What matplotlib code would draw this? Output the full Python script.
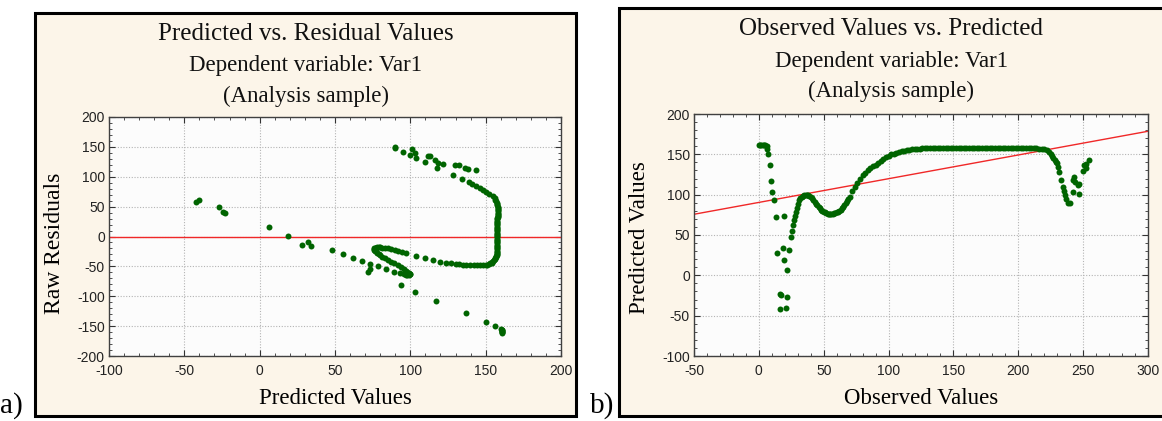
import matplotlib
matplotlib.use("Agg")
import matplotlib.pyplot as plt
from matplotlib.patches import Rectangle
from matplotlib.ticker import MultipleLocator

plt.rcParams["axes.unicode_minus"] = False

# -- Data ---------------------------------------------------------------------
# Sparse points at low observed values
obs_low = [0, 1, 2, 3, 4, 5, 6, 6.5, 7, 8.5, 9.5, 10, 12, 13, 19, 14, 18.5,
           19.5, 23.5, 22, 16, 17, 16, 21, 22]
pred_low = [161, 161, 161, 161, 161, 161, 160, 156, 150, 137, 117, 103, 94, 72,
            73, 28, 34, 19, 32, 6, -23, -24.5, -42, -40.5, -27]

# Dense main curve (rising part, bump, dip, climb, plateau, drop)
obs_curve = [
    25, 25.5, 26.3, 27, 27.8, 28.8, 29.5, 30.3, 31.2,
    32, 33, 34, 35, 36, 37, 38, 39, 40, 41,
    42, 43, 44, 45, 46, 47, 48, 49, 50, 51,
    52, 53, 54, 55, 56, 57, 58, 59, 60, 61,
    62, 63, 64, 65, 66, 67, 68, 69, 70,
    72, 74, 76, 78, 80, 82, 84, 86, 88, 90,
    92, 94, 96, 98, 100, 102, 104, 106, 108, 110,
    112, 114, 116, 118, 120, 122, 124, 126, 128,
    130, 132, 134, 136, 138, 140, 142, 144, 146, 148,
    150, 152, 154, 156, 158, 160, 162, 164, 166, 168,
    170, 172, 174, 176, 178, 180, 182, 184, 186, 188,
    190, 192, 194, 196, 198, 200, 202, 204, 206, 208,
    210, 212, 214,
    216, 218, 220, 222, 224, 225, 226, 227, 228, 229,
]
pred_curve = [
    48, 55.5, 62, 68, 73, 78.5, 84, 89, 93,
    95.5, 97, 98, 99, 99.5, 99.5, 99, 98, 97, 95.5,
    93.5, 91.5, 89, 87, 85, 83, 81.5, 80, 79, 78,
    77, 76.5, 76, 76, 76, 76.5, 77, 77.5, 78, 79,
    80, 81.5, 83, 85, 87, 89.5, 92, 94.5, 97,
    104, 110, 115, 120, 124, 127, 130, 132.5, 135, 137,
    139.5, 142, 144.5, 146.5, 148, 150, 151, 152, 153, 154,
    154.5, 155, 155.5, 156, 156.5, 157, 157, 157.5, 157.5,
    157.5, 157.5, 157.5, 157.5, 157.5, 157.5, 157.5, 157.5, 157.5, 157.5,
    157.5, 157.5, 157.5, 157.5, 157.5, 157.5, 157.5, 157.5, 157.5, 157.5,
    157.5, 157.5, 157.5, 157.5, 157.5, 157.5, 157.5, 157.5, 157.5, 157.5,
    158, 158, 158, 158, 158, 158, 158, 158, 158, 158,
    157.5, 157.5, 157.5,
    157, 156.5, 156, 155, 152.5, 150.5, 148.5, 146, 143.5, 141,
]

# Sparse points at high observed values
obs_high = [229.5, 230.5, 231.5, 232.8, 234.3, 235, 236.3, 237, 238.2, 239.5,
            242, 242, 242.8, 243.5, 245.8, 247, 246.8, 250, 250.5, 252, 252.5,
            254.5]
pred_high = [139, 134.5, 128, 118, 109.5, 104, 100, 95, 89.5, 89.5, 103,
             118.5, 122, 116.2, 111.5, 113, 101, 129.5, 136.5, 138.5, 132.5,
             143.5]

obs = obs_low + obs_curve + obs_high
pred = pred_low + pred_curve + pred_high
assert len(obs) == len(pred), (len(obs), len(pred))
resid = [o - p for o, p in zip(obs, pred)]

# Fitted line on the observed vs predicted panel
fit_intercept = 90.4
fit_slope = 0.294

# -- Style ---------------------------------------------------------------------
W, H = 1162, 421
_CREAM = "#fcf5e9"
_PLOT_BG = "#fcfcfc"
_GREEN = "#006400"
_RED = "#f02828"
_SERIF = ["Liberation Serif", "DejaVu Serif"]
_NARROW = ["Liberation Sans Narrow", "Liberation Sans", "DejaVu Sans"]
_FS_HEAD = 18
_FS_TITLE = 16.5
_FS_LABEL = 16.5
_FS_TICK = 10
_MS = 4.3


def px_rect(x0, y0, x1, y1):
    """Pixel box (top-left origin) -> figure fraction rect."""
    return [x0 / W, 1 - y1 / H, (x1 - x0) / W, (y1 - y0) / H]


def fx(x):
    return x / W


def fy(y):
    return 1 - y / H


def style_axes(ax, xlim, ylim):
    ax.set_facecolor(_PLOT_BG)
    ax.set_xlim(*xlim)
    ax.set_ylim(*ylim)
    ax.xaxis.set_major_locator(MultipleLocator(50))
    ax.xaxis.set_minor_locator(MultipleLocator(10))
    ax.yaxis.set_major_locator(MultipleLocator(50))
    ax.yaxis.set_minor_locator(MultipleLocator(10))
    ax.tick_params(which="both", direction="in", top=True, right=True,
                   color="#333333", labelsize=_FS_TICK, labelcolor="#222222")
    ax.tick_params(which="major", length=4, width=0.8)
    ax.tick_params(axis="x", which="major", pad=6)
    ax.tick_params(axis="y", which="major", pad=3)
    ax.tick_params(which="minor", length=2.5, width=0.6)
    for lbl in ax.get_xticklabels() + ax.get_yticklabels():
        lbl.set_fontfamily(_NARROW)
    ax.grid(True, which="major", linestyle=(0, (1, 1.5)), color="#b4b4b4",
            linewidth=0.8)
    ax.set_axisbelow(True)
    for sp in ax.spines.values():
        sp.set_color("#404040")
        sp.set_linewidth(1.0)


fig = plt.figure(figsize=(W / 100, H / 100), dpi=100)
fig.patch.set_facecolor("white")

# Panel frames
for x0, y0, x1, y1 in [(35, 13, 576, 416), (619, 8, 1170, 416)]:
    fig.add_artist(Rectangle((fx(x0), fy(y1)), (x1 - x0) / W, (y1 - y0) / H,
                             transform=fig.transFigure, facecolor=_CREAM,
                             edgecolor="black", linewidth=2.2, zorder=0))

# -- a) Predicted vs residual -------------------------------------------------
ax1 = fig.add_axes(px_rect(109, 117, 561, 356))
ax1.axhline(0, color=_RED, linewidth=1.0, zorder=2)
ax1.plot(pred, resid, "o", color=_GREEN, ms=_MS, mew=0, zorder=3)
style_axes(ax1, (-100, 200), (-200, 200))

# -- b) Observed vs predicted -------------------------------------------------
ax2 = fig.add_axes(px_rect(694, 114, 1148, 356))
ax2.axline((0, fit_intercept), slope=fit_slope, color=_RED, linewidth=1.0,
           zorder=2)
ax2.plot(obs, pred, "o", color=_GREEN, ms=_MS, mew=0, zorder=3)
style_axes(ax2, (-50, 300), (-100, 200))

# Titles
title_lines = ["Dependent variable: Var1", "(Analysis sample)"]
for cx, ys, head in [(305.5, (34, 66, 96), "Predicted vs. Residual Values"),
                     (891, (29, 61, 91), "Observed Values vs. Predicted")]:
    fig.text(fx(cx), fy(ys[0]), head, ha="center", va="center",
             fontsize=_FS_HEAD, family=_SERIF, color="#111111")
    for y, txt in zip(ys[1:], title_lines):
        fig.text(fx(cx), fy(y), txt, ha="center", va="center",
                 fontsize=_FS_TITLE, family=_SERIF, color="#111111")

# Axis labels
fig.text(fx(335), fy(399), "Predicted Values", ha="center", va="center",
         fontsize=_FS_LABEL, family=_SERIF)
fig.text(fx(921), fy(399), "Observed Values", ha="center", va="center",
         fontsize=_FS_LABEL, family=_SERIF)
fig.text(fx(55), fy(243), "Raw Residuals", ha="center", va="center",
         rotation=90, fontsize=_FS_LABEL + 0.5, family=_SERIF)
fig.text(fx(640), fy(238), "Predicted Values", ha="center", va="center",
         rotation=90, fontsize=_FS_LABEL, family=_SERIF)

# Panel letters
fig.text(fx(0), fy(413), "a)", ha="left", va="baseline", fontsize=21,
         family=_SERIF)
fig.text(fx(590), fy(413), "b)", ha="left", va="baseline", fontsize=21,
         family=_SERIF)

fig.savefig("out.png", dpi=100, facecolor="white")
